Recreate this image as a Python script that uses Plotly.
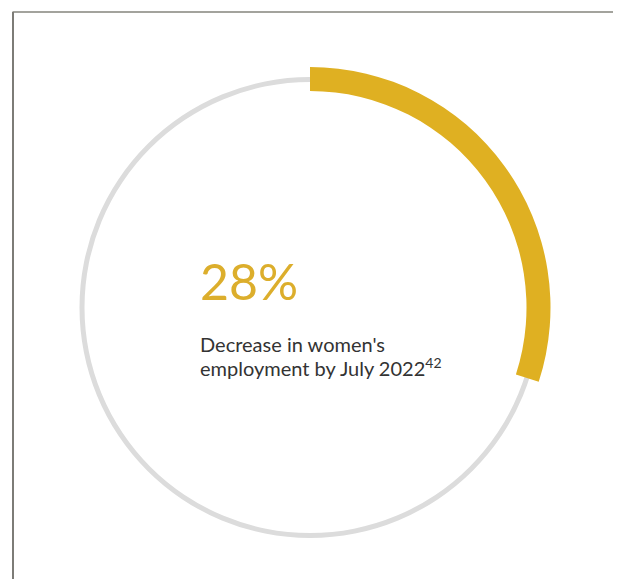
import plotly.graph_objects as go

# Data
headline_value = 28            # percent shown as text
arc_share = [30, 70]           # arc as drawn in the picture (highlight, remainder)
ring_share = [100]
headline_label = "28%"
caption_lines = ["Decrease in women's", "employment by July 2022<sup>42</sup>"]

OFF = 8                        # page body margin added by the browser
W, H = 621 - OFF, 579 - OFF
GOLD = "#dfb022"
GRAY = "#dcdcdc"
TEXT = "#333333"

cx, cy = 310 - OFF, 307.5 - OFF  # pixel centre (from top of figure)

def dom(r):
    return dict(x=[(cx - r) / W, (cx + r) / W],
                y=[(H - cy - r) / H, (H - cy + r) / H])

def px(x):
    return (x - OFF) / W

def py(y):
    return (H - (y - OFF)) / H

fig = go.Figure()

# thin grey full ring
fig.add_trace(go.Pie(values=ring_share, marker=dict(colors=[GRAY], line=dict(width=0)),
                     hole=225.5 / 230.5, domain=dom(230.5), sort=False,
                     direction="clockwise", textinfo="none", hoverinfo="skip",
                     showlegend=False))
# thick gold arc
fig.add_trace(go.Pie(values=arc_share,
                     marker=dict(colors=[GOLD, "rgba(0,0,0,0)"], line=dict(width=0)),
                     hole=216.5 / 240.5, domain=dom(240.5), sort=False,
                     direction="clockwise", rotation=0, textinfo="none",
                     hoverinfo="skip", showlegend=False))

FONT = "Lato"
x0 = px(198)
fig.add_annotation(x=x0, y=py(281), xref="paper", yref="paper",
                   text=headline_label, showarrow=False, xanchor="left", yanchor="middle",
                   font=dict(family=FONT, size=50, color="#dcae2c"))
fig.add_annotation(x=x0, y=py(344), xref="paper", yref="paper",
                   text=caption_lines[0], showarrow=False, xanchor="left", yanchor="middle",
                   font=dict(family=FONT, size=20, color=TEXT))
fig.add_annotation(x=x0, y=py(367), xref="paper", yref="paper",
                   text=caption_lines[1], showarrow=False, xanchor="left", yanchor="middle",
                   font=dict(family=FONT, size=20, color=TEXT))

# frame lines (top and left)
fig.add_shape(type="line", xref="paper", yref="paper", x0=px(12.5), x1=1, y0=py(12),
              y1=py(12), line=dict(color="#a3a39d", width=2))
fig.add_shape(type="line", xref="paper", yref="paper", x0=px(13), x1=px(13), y0=0,
              y1=py(12), line=dict(color="#7d7c77", width=2))

fig.update_layout(width=W, height=H, margin=dict(l=0, r=0, t=0, b=0),
                  paper_bgcolor="white", plot_bgcolor="white")
fig.write_html("out.html")
